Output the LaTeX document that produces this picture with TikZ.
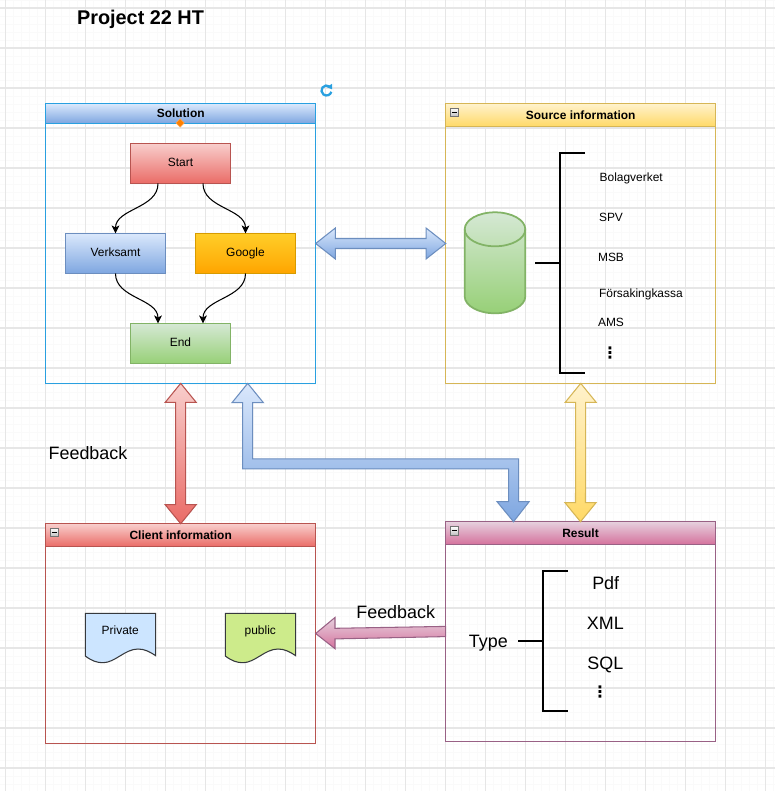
\documentclass[tikz,border=0pt]{standalone}
\usepackage{amsmath}
\usepackage{fontspec}
\setmainfont{Liberation Sans}
\newfontfamily\dotsfont{DejaVu Sans}
\usetikzlibrary{calc,arrows.meta,shapes.geometric}

\definecolor{gridMajor}{HTML}{E6E6E6}
\definecolor{gridMinor}{HTML}{FAFAFA}
\definecolor{selBlue}{HTML}{29A0E0}
\definecolor{blueTop}{HTML}{DAE8FC}
\definecolor{blueBot}{HTML}{7EA6E0}
\definecolor{blueLine}{HTML}{6C8EBF}
\definecolor{redTop}{HTML}{F8CECC}
\definecolor{redBot}{HTML}{EA6B66}
\definecolor{redLine}{HTML}{B85450}
\definecolor{yellowTop}{HTML}{FFF2CC}
\definecolor{yellowBot}{HTML}{FFD966}
\definecolor{yellowLine}{HTML}{D6B656}
\definecolor{pinkTop}{HTML}{E6D0DE}
\definecolor{pinkBot}{HTML}{D5739D}
\definecolor{pinkLine}{HTML}{996185}
\definecolor{greenTop}{HTML}{D5E8D4}
\definecolor{greenBot}{HTML}{97D077}
\definecolor{greenLine}{HTML}{82B366}
\definecolor{orangeTop}{HTML}{FFCD28}
\definecolor{orangeBot}{HTML}{FFA500}
\definecolor{orangeLine}{HTML}{D79B00}
\definecolor{docBlue}{HTML}{CCE5FF}
\definecolor{docGreen}{HTML}{CDEB8B}
\definecolor{docLine}{HTML}{36393D}

\tikzset{
    small text/.style={font=\fontsize{6.8}{8}\selectfont, text height=6pt, text depth=1.14pt},
    big text/.style={font=\fontsize{10.2}{12}\selectfont, text height=9pt, text depth=1.7pt},
    head text/.style={font=\fontsize{6.8}{8}\selectfont\bfseries, text height=6pt, text depth=1.14pt},
    dots text/.style={font=\fontsize{9}{10}\dotsfont\bfseries, inner sep=0},
    panel/.style={draw=#1, line width=0.6pt, minimum width=5.4cm, inner sep=0, outer sep=0},
    panelhead/.style n args={3}{draw=#3, top color=#1, bottom color=#2, line width=0.6pt,
        minimum width=5.4cm, inner sep=0, outer sep=0, head text},
    flowbox/.style n args={3}{draw=#3, top color=#1, bottom color=#2, line width=0.6pt,
        minimum width=2cm, minimum height=0.8cm, inner sep=0, outer sep=0, small text, text depth=2.3pt},
    blockarrow/.style n args={3}{draw=#3, top color=#1, bottom color=#2, line width=0.6pt},
    flowarrow/.style={line width=0.6pt, -{Stealth[length=4.6pt,width=4.4pt,inset=1.2pt]}},
    bracketline/.style={line width=1.15pt},
    minusbox/.style={draw=black!55, top color=white, bottom color=black!25, line width=0.5pt,
        minimum width=0.17cm, minimum height=0.17cm, inner sep=0, outer sep=0},
}

\newcommand{\twoheadV}[3]{%
    \draw[#1] (#2) -- ++(15.5,19) -- ++(-10.5,0) -- ($(#3)+(5,-19)$) -- ++(10.5,0) -- (#3)
        -- ++(-15.5,-19) -- ++(10.5,0) -- ($(#2)+(-5,19)$) -- ++(-10.5,0) -- cycle;}

\begin{document}
\begin{tikzpicture}[x=0.02cm,y=-0.02cm]
    \useasboundingbox (0,0) rectangle (775,791);
    \fill[white] (0,0) rectangle (775,791);
    % grid
    \foreach \gx in {5.5,13.5,...,775} {\draw[gridMinor, line width=0.4pt] (\gx,0) -- (\gx,791);}
    \foreach \gy in {0,8,...,791} {\draw[gridMinor, line width=0.4pt] (0,\gy) -- (775,\gy);}
    \foreach \gx in {5.5,45.5,...,775} {\draw[gridMajor, line width=0.6pt] (\gx,0) -- (\gx,791);}
    \foreach \gy in {8,48,...,791} {\draw[gridMajor, line width=0.6pt] (0,\gy) -- (775,\gy);}

    \node[font=\fontsize{11.3}{13}\selectfont\bfseries, text height=9pt, text depth=0.9pt] (title) at (140.5,17) {Project 22 HT};

    % panels
    \node[panel=selBlue, minimum height=5.596cm] (solution) at (180.7,243.5) {};
    \node[panelhead={blueTop}{blueBot}{selBlue}, minimum height=0.392cm] (solutionHead) at (180.7,113.5) {Solution};
    \node[panel=yellowLine, minimum height=5.596cm] (source) at (580.7,243.5) {};
    \node[panelhead={yellowTop}{yellowBot}{yellowLine}, minimum height=0.46cm] (sourceHead) at (580.7,115.2) {Source information};
    \node[panel=redLine, minimum height=4.396cm] (client) at (180.7,633.5) {};
    \node[panelhead={redTop}{redBot}{redLine}, minimum height=0.46cm] (clientHead) at (180.7,535.2) {Client information};
    \node[panel=pinkLine, minimum height=4.386cm] (result) at (580.5,631.4) {};
    \node[panelhead={pinkTop}{pinkBot}{pinkLine}, minimum height=0.452cm] (resultHead) at (580.5,533) {Result};

    \foreach \m/\mx/\my in {minusSource/454.5/112.3,minusClient/54.5/532.3,minusResult/454.5/530.8} {
        \node[minusbox] (\m) at (\mx,\my) {};
        \draw[line width=0.6pt] ($(\m)+(-2.7,0)$) -- ($(\m)+(2.7,0)$);
    }

    % selection marks
    \node[diamond, fill=orange, draw=orange!70, line width=0.3pt, minimum size=0.17cm, inner sep=0] (handle) at (180.2,123) {};
    \draw[selBlue, line width=1.3pt] (329.5,86.5) arc (-53:-345:5);
    \fill[selBlue] (332,83.8) -- (332.2,89.4) -- (326.8,87.2) -- cycle;

    % block arrows
    \twoheadV{blockarrow={redTop}{redBot}{redLine}}{solution.south}{clientHead.north}
    \twoheadV{blockarrow={yellowTop}{yellowBot}{yellowLine}}{source.south}{resultHead.north}
    \coordinate (linkTop) at ($(solution.south)+(67,0)$);
    \coordinate (linkEnd) at ($(resultHead.north)+(-67,0)$);
    \draw[blockarrow={blueTop}{blueBot}{blueLine}] (linkTop) -- (263.4,402.7) -- (252.7,402.7) -- (252.7,458.9)
        -- (518.7,458.9) -- (518.7,501.7) -- (529.1,501.7) -- (linkEnd) -- (497.1,501.7) -- (508.7,501.7)
        -- (508.7,468.9) -- (242.7,468.9) -- (242.7,402.7) -- (232,402.7) -- cycle;
    \draw[blockarrow={blueTop}{blueBot}{blueLine}] (solution.east) -- ++(19.7,-15.5) -- ++(0,10.5)
        -- ($(source.west)+(-19.7,-5)$) -- ++(0,-10.5) -- (source.west) -- ++(-19.7,15.5) -- ++(0,-10.5)
        -- ($(solution.east)+(19.7,5)$) -- ++(0,10.5) -- cycle;
    \draw[blockarrow={pinkTop}{pinkBot}{pinkLine}] (client.east) -- ++(19.3,-16) -- ++(0,10.8)
        -- ($(result.west)+(0,-5)$) -- ($(result.west)+(0,5.2)$) -- (335,638.9) -- ++(0,9.8) -- cycle;

    % flow
    \node[flowbox={redTop}{redBot}{redLine}] (start) at (180.5,163.5) {Start};
    \node[flowbox={blueTop}{blueBot}{blueLine}] (verksamt) at (115.5,253.5) {Verksamt};
    \node[flowbox={orangeTop}{orangeBot}{orangeLine}] (google) at (245.5,253.5) {Google};
    \node[flowbox={greenTop}{greenBot}{greenLine}] (finish) at (180.5,343.5) {End};
    \coordinate (startL) at ($(start.south west)!0.275!(start.south east)$);
    \coordinate (startR) at ($(start.south west)!0.725!(start.south east)$);
    \coordinate (finishL) at ($(finish.north west)!0.275!(finish.north east)$);
    \coordinate (finishR) at ($(finish.north west)!0.725!(finish.north east)$);
    \draw[flowarrow] (startL) .. controls +(0,25) and ($(verksamt.north)+(0,-25)$) .. (verksamt.north);
    \draw[flowarrow] (startR) .. controls +(0,25) and ($(google.north)+(0,-25)$) .. (google.north);
    \draw[flowarrow] (verksamt.south) .. controls +(0,25) and ($(finishL)+(0,-25)$) .. (finishL);
    \draw[flowarrow] (google.south) .. controls +(0,25) and ($(finishR)+(0,-25)$) .. (finishR);

    % database
    \draw[draw=greenLine, top color=greenTop, bottom color=greenBot, line width=1pt]
        (464.7,229.3) arc (180:360:30.3 and 17) -- (525.3,296.3) arc (0:180:30.3 and 17) -- cycle;
    \draw[greenLine, line width=1pt] (464.7,229.3) arc (180:0:30.3 and 17);

    % source list
    \coordinate (srcStub) at (535,263);
    \coordinate (srcMid) at (559.7,263);
    \coordinate (srcTop) at (559.7,152.7);
    \coordinate (srcBot) at (559.7,373);
    \draw[bracketline] (585,152.7) -- (srcTop) -- (srcBot) -- (585,373);
    \draw[bracketline] (srcStub) -- (srcMid);
    \node[small text, anchor=west, inner sep=0] (bolag) at (599.3,177.3) {Bolagverket};
    \node[small text, anchor=west, inner sep=0] (spv) at (598.7,217.5) {SPV};
    \node[small text, anchor=west, inner sep=0] (msb) at (597.7,257.5) {MSB};
    \node[small text, anchor=west, inner sep=0] (kassa) at (598.7,292.8) {Försakingkassa};
    \node[small text, anchor=west, inner sep=0] (ams) at (597.7,322.7) {AMS};
    \node[dots text] (srcDots) at (610,353.5) {⋮};

    % client documents
    \foreach \docName/\docX/\docFill/\docText in {docPrivate/85.3/docBlue/Private,docPublic/225.3/docGreen/public} {
        \draw[shift={(\docX,0)}, draw=docLine, fill=\docFill, line width=0.6pt] (0,613.3) -- (70.4,613.3) -- (70.4,655.7)
            .. controls (64.7,652) and (59.7,649) .. (52.7,649)
            .. controls (39.7,649) and (29.7,662.7) .. (17.7,662.7)
            .. controls (11.7,662.7) and (6.7,661) .. (0,656) -- cycle;
        \node[small text] (\docName) at (\docX+35,630.3) {\docText};
    }

    % result list
    \node[big text] (type) at (488.3,641.2) {Type};
    \coordinate (typeMid) at (543,641);
    \draw[bracketline] (568,571) -- (543,571) -- (543,711) -- (568,711);
    \draw[bracketline] (518,641) -- (typeMid);
    \node[big text] (pdf) at (605.7,583) {Pdf};
    \node[big text] (xml) at (605.3,623.2) {XML};
    \node[big text] (sql) at (605.3,663.2) {SQL};
    \node[dots text] (resDots) at (600,691.5) {⋮};

    \node[big text] (feedbackLeft) at (88,453.2) {Feedback};
    \node[big text] (feedbackRight) at (395.7,612) {Feedback};
\end{tikzpicture}
\end{document}
